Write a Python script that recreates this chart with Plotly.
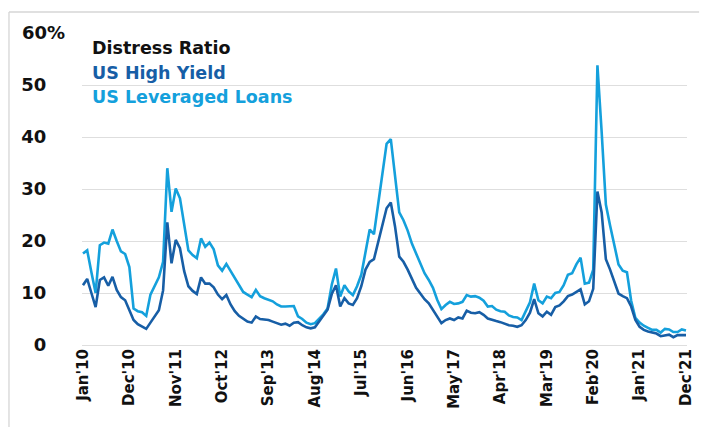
import plotly.graph_objects as go

month_names = ["Jan", "Feb", "Mar", "Apr", "May", "Jun", "Jul", "Aug", "Sep", "Oct", "Nov", "Dec"]
years = list(range(2010, 2022))
months = [f"{m}'{str(y)[2:]}" for y in years for m in month_names]

tick_labels = ["Jan'10", "Dec'10", "Nov'11", "Oct'12", "Sep'13", "Aug'14", "Jul'15",
               "Jun'16", "May'17", "Apr'18", "Mar'19", "Feb'20", "Jan'21", "Dec'21"]

y_ticks = [0, 10, 20, 30, 40, 50, 60]
y_tick_text = ["0", "10", "20", "30", "40", "50", "60%"]

# US High Yield distress ratio (%), monthly Jan 2010 - Dec 2021
us_high_yield = [
    11.5, 12.7, 10.0, 7.3, 12.5, 13.0, 11.4, 13.1, 10.6, 9.2, 8.6, 6.5,      # 2010
    4.8, 4.0, 3.5, 3.1, 4.3, 5.5, 6.7, 10.5, 23.6, 15.7, 20.2, 18.6,         # 2011
    14.2, 11.3, 10.4, 9.8, 13.0, 11.8, 11.8, 11.1, 9.7, 8.8, 9.6, 7.8,       # 2012
    6.5, 5.6, 5.0, 4.5, 4.3, 5.5, 5.0, 4.9, 4.8, 4.5, 4.2, 3.9,              # 2013
    4.1, 3.7, 4.3, 4.4, 3.8, 3.4, 3.2, 3.4, 4.5, 5.6, 6.8, 9.8,              # 2014
    11.5, 7.4, 9.0, 8.0, 7.7, 9.0, 11.3, 14.5, 16.0, 16.5, 19.6, 23.0,       # 2015
    26.3, 27.4, 22.8, 17.0, 16.0, 14.5, 12.8, 11.0, 9.9, 8.8, 8.0, 6.8,      # 2016
    5.5, 4.2, 4.8, 5.1, 4.8, 5.3, 5.1, 6.6, 6.2, 6.1, 6.3, 5.8,              # 2017
    5.1, 4.8, 4.6, 4.4, 4.1, 3.8, 3.7, 3.5, 3.8, 4.8, 6.2, 8.8,              # 2018
    6.1, 5.5, 6.4, 5.8, 7.3, 7.6, 8.4, 9.4, 9.7, 10.2, 10.7, 7.8,            # 2019
    8.4, 10.8, 29.5, 25.5, 16.5, 14.5, 12.0, 9.9, 9.4, 9.0, 7.4, 4.8,        # 2020
    3.5, 2.9, 2.6, 2.4, 2.2, 1.7, 1.9, 2.0, 1.5, 1.9, 1.9, 1.9,              # 2021
]

# US Leveraged Loans distress ratio (%)
us_leveraged_loans = [
    17.6, 18.2, 14.0, 10.0, 19.2, 19.7, 19.5, 22.2, 20.0, 18.0, 17.5, 15.0,  # 2010
    7.0, 6.5, 6.3, 5.6, 9.7, 11.3, 13.0, 16.0, 34.0, 25.6, 30.1, 28.2,       # 2011
    23.0, 18.2, 17.3, 16.7, 20.5, 18.9, 19.7, 18.4, 15.3, 14.3, 15.6, 14.2,  # 2012
    12.8, 11.5, 10.2, 9.7, 9.2, 10.6, 9.4, 9.0, 8.7, 8.4, 7.8, 7.4,          # 2013
    7.4, 7.4, 7.5, 5.5, 5.0, 4.3, 4.0, 4.2, 5.0, 5.9, 7.0, 11.6,             # 2014
    14.7, 9.3, 11.5, 10.3, 9.6, 11.3, 13.5, 18.0, 22.2, 21.3, 27.0, 33.0,    # 2015
    38.7, 39.6, 33.0, 25.5, 24.0, 22.0, 19.5, 17.5, 15.7, 13.8, 12.5, 11.0,  # 2016
    8.7, 6.9, 7.7, 8.3, 7.9, 8.0, 8.3, 9.6, 9.3, 9.4, 9.1, 8.5,              # 2017
    7.4, 7.5, 6.8, 6.5, 6.4, 5.7, 5.4, 5.3, 4.8, 6.4, 8.2, 11.8,             # 2018
    8.6, 8.0, 9.3, 9.0, 10.0, 10.2, 11.5, 13.5, 13.8, 15.5, 16.8, 11.8,      # 2019
    12.0, 14.5, 53.8, 41.0, 27.0, 23.0, 19.0, 15.5, 14.3, 14.0, 8.5, 5.2,    # 2020
    4.3, 3.7, 3.3, 2.9, 2.9, 2.4, 3.1, 3.0, 2.5, 2.5, 3.0, 2.8,              # 2021
]

HY_COLOR = "#175ea6"
LL_COLOR = "#14a0dc"
FONT = "DejaVu Sans"

fig = go.Figure()
fig.add_trace(go.Scatter(x=months, y=us_leveraged_loans, mode="lines",
                         line=dict(color=LL_COLOR, width=2.6), name="US Leveraged Loans"))
fig.add_trace(go.Scatter(x=months, y=us_high_yield, mode="lines",
                         line=dict(color=HY_COLOR, width=2.6), name="US High Yield"))

pad = "\u00a0\u00a0\u00a0"
fig.update_layout(
    width=704, height=427,
    margin=dict(l=82, r=9, t=33, b=82),
    paper_bgcolor="white", plot_bgcolor="white",
    showlegend=False,
    font=dict(family=FONT, color="#111111"),
    xaxis=dict(
        type="category",
        range=[-0.23, 143.24],
        tickmode="array",
        tickvals=tick_labels,
        ticktext=tick_labels,
        tickangle=-90,
        tickfont=dict(family=FONT, size=15, color="#111111", weight="bold"),
        showgrid=False, zeroline=False, showline=False, ticks="",
    ),
    yaxis=dict(
        range=[0, 60],
        tickmode="array",
        tickvals=y_ticks,
        ticktext=[t if t.endswith("%") else t + pad for t in y_tick_text],
        tickfont=dict(family=FONT, size=18, color="#111111", weight="bold"),
        showgrid=True, gridcolor="#dedede", gridwidth=1.3,
        zeroline=True, zerolinecolor="#dedede", zerolinewidth=1.3,
        showline=False, ticks="",
        ticklabelstandoff=16,
    ),
)

legend_items = [("Distress Ratio", "#111111"), ("US High Yield", HY_COLOR),
                ("US Leveraged Loans", LL_COLOR)]
ys = [0.952, 0.873, 0.796]
for (txt, col), yy in zip(legend_items, ys):
    fig.add_annotation(text=f"<b>{txt}</b>", x=0.013, y=yy, xref="paper", yref="paper",
                       xanchor="left", yanchor="middle", showarrow=False,
                       font=dict(family=FONT, size=17.5, color=col))

# light frame (top and left edges)
fig.add_shape(type="line", xref="paper", yref="paper", x0=-0.1207, x1=1.02, y0=1.0673, y1=1.0673,
              line=dict(color="#d6d6d6", width=1.3))
fig.add_shape(type="line", xref="paper", yref="paper", x0=-0.1207, x1=-0.1207, y0=1.0673, y1=-0.3,
              line=dict(color="#d6d6d6", width=1.3))

fig.write_html("out.html")
